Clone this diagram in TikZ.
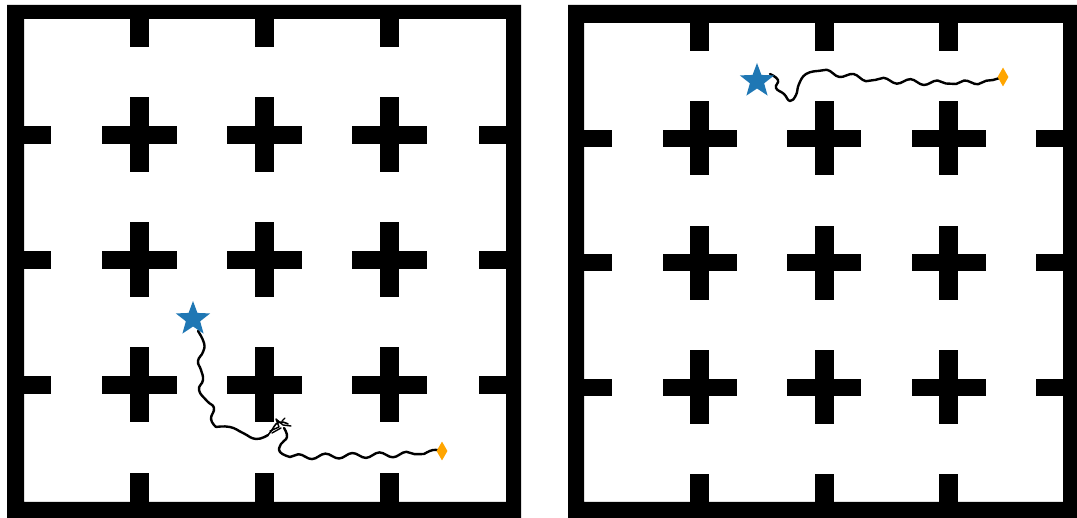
\documentclass[tikz,border=0pt]{standalone}
\usetikzlibrary{shapes.geometric,decorations.pathmorphing}
\definecolor{tabblue}{HTML}{1F77B4}
\definecolor{goalorange}{HTML}{FFA500}
\begin{document}
\begin{tikzpicture}[x=1pt,y=-1pt,
  wall/.style={fill=black,draw=none},
  traj/.style={draw=black,line width=2.4pt,line cap=round,line join=round},
  wig/.style={decorate,decoration={snake,amplitude=2.6pt,segment length=27pt}},
  startstar/.style={star,star points=5,star point ratio=2.4,fill=tabblue,draw=none,minimum size=36pt,inner sep=0pt},
  goal/.style={diamond,fill=goalorange,draw=none,minimum width=11pt,minimum height=19pt,inner sep=0pt}]
\useasboundingbox (0,0) rectangle (1077,518);
\fill[white] (0,0) rectangle (1077,518);
% ---------- left maze ----------
\fill[wall,even odd rule] (7,5) rectangle (521,518) (24,19) rectangle (506,502);
\foreach \cx in {139.5,264.5,389.5}{
  \fill[wall] (\cx-9.5,19) rectangle (\cx+9.5,47);
  \fill[wall] (\cx-9.5,473) rectangle (\cx+9.5,502);
  \foreach \cy in {135,260,385}{
    \fill[wall] (\cx-37.5,\cy-9) rectangle (\cx+37.5,\cy+9);
    \fill[wall] (\cx-9.5,\cy-37.5) rectangle (\cx+9.5,\cy+37.5);
  }
}
\foreach \cy in {135,260,385}{
  \fill[wall] (24,\cy-9) rectangle (51,\cy+9);
  \fill[wall] (479,\cy-9) rectangle (506,\cy+9);
}
% ---------- right maze ----------
\fill[wall,even odd rule] (568,5) rectangle (1077,518) (584,23) rectangle (1063,502);
\foreach \cx in {699.5,824,948.5}{
  \fill[wall] (\cx-9.5,23) rectangle (\cx+9.5,51);
  \fill[wall] (\cx-9.5,474) rectangle (\cx+9.5,502);
  \foreach \cy in {138.5,263,387.5}{
    \fill[wall] (\cx-37,\cy-8.5) rectangle (\cx+37,\cy+8.5);
    \fill[wall] (\cx-9.5,\cy-37) rectangle (\cx+9.5,\cy+37);
  }
}
\foreach \cy in {138.5,263,387.5}{
  \fill[wall] (584,\cy-8.5) rectangle (612,\cy+8.5);
  \fill[wall] (1036,\cy-8.5) rectangle (1063,\cy+8.5);
}
% ---------- left trajectory ----------
\coordinate (sA) at (198,331);
\coordinate (gA) at (442,451);
\coordinate (a1) at (216,427);
\coordinate (a2) at (268,435);
\coordinate (a3) at (284,428);
\coordinate (a4) at (290,457);
\draw[traj] plot[smooth,tension=0.8] coordinates {(sA) (204,343) (203,352) (198,361) (201,370) (203,380) (199,390) (207,401) (214,408) (211,419) (a1)};
\draw[traj] plot[smooth,tension=0.8] coordinates {(a1) (230,427) (243,433) (256,439) (a2)};
\draw[traj,line width=1.6pt] plot[smooth,tension=0.6] coordinates {(a2) (272,430) (276,424) (282,422) (288,424)};
\draw[traj,line width=1.4pt] (270,431) -- (279,427) -- (276,419) -- (283,425) -- (291,426);
\draw[traj,line width=1.4pt] (272,433) -- (281,428) (282,421) -- (285,418);
\draw[traj] plot[smooth,tension=0.8] coordinates {(a3) (287,437) (281,444) (280,452) (a4)};
\draw[traj,wig] (a4) -- (424,454);
\draw[traj] plot[smooth,tension=0.7] coordinates {(424,454) (433,450) (gA)};
\node[startstar] (star1) at (193,319) {};
\node[goal] (goal1) at (gA) {};
% ---------- right trajectory ----------
\coordinate (sB) at (770,74);
\coordinate (gB) at (1003,77);
\coordinate (b1) at (818,71);
\draw[traj] plot[smooth,tension=0.8] coordinates {(sB) (778,80) (776,88) (784,94) (790,101) (796,95) (799,84) (806,74) (b1)};
\draw[traj,wig] (b1) -- (875,80);
\draw[traj,wig] (875,80) -- (956,84);
\draw[traj,wig] (956,84) -- (993,80);
\draw[traj] (993,80) -- (gB);
\node[startstar] (star2) at (757,81) {};
\node[goal] (goal2) at (gB) {};
\end{tikzpicture}
\end{document}
